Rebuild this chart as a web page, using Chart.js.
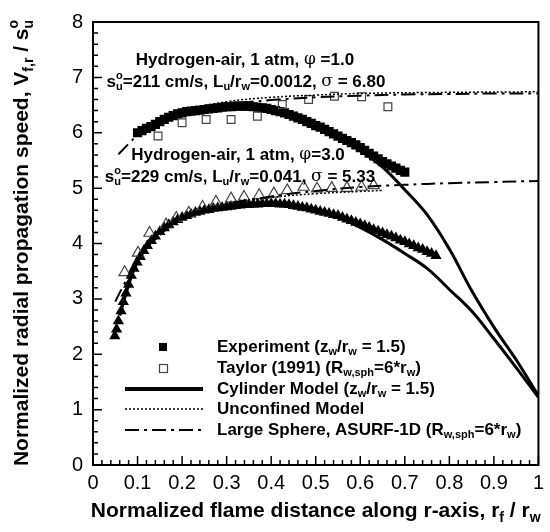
<!DOCTYPE html>
<html>
<head>
<meta charset="utf-8">
<script src="https://cdn.jsdelivr.net/npm/chart.js@4.4.0/dist/chart.umd.min.js"></script>
<style>
  html, body { margin: 0; padding: 0; background: #fff; }
</style>
</head>
<body>
<canvas id="chart" width="550" height="532"></canvas>
<script>
// ---- data ----
// phi = 1.0
const expPhi1X = [0.10, 0.11, 0.12, 0.13, 0.14, 0.15, 0.16, 0.17, 0.18, 0.19, 0.20, 0.21, 0.22, 0.23, 0.24, 0.25,
  0.26, 0.27, 0.28, 0.29, 0.30, 0.31, 0.32, 0.33, 0.34, 0.35, 0.36, 0.37, 0.38, 0.39, 0.40, 0.41, 0.42, 0.43, 0.44,
  0.45, 0.46, 0.47, 0.48, 0.49, 0.50, 0.51, 0.52, 0.53, 0.54, 0.55, 0.56, 0.57, 0.58, 0.59, 0.60, 0.61, 0.62, 0.63,
  0.64, 0.65, 0.66, 0.67, 0.68, 0.69, 0.70];
const expPhi1Y = [6.00, 6.04, 6.08, 6.11, 6.15, 6.20, 6.24, 6.28, 6.31, 6.34, 6.36, 6.38, 6.39, 6.40, 6.41, 6.42,
  6.43, 6.44, 6.45, 6.46, 6.47, 6.47, 6.48, 6.48, 6.48, 6.48, 6.47, 6.46, 6.45, 6.44, 6.42, 6.40, 6.38, 6.36, 6.33,
  6.30, 6.27, 6.24, 6.20, 6.17, 6.13, 6.10, 6.06, 6.02, 5.98, 5.94, 5.90, 5.86, 5.82, 5.78, 5.73, 5.68, 5.63, 5.58,
  5.53, 5.48, 5.44, 5.40, 5.36, 5.32, 5.29];
const taylorPhi1X = [0.146, 0.200, 0.254, 0.310, 0.369, 0.425, 0.484, 0.542, 0.603, 0.662];
const taylorPhi1Y = [5.94, 6.18, 6.24, 6.24, 6.30, 6.51, 6.60, 6.66, 6.65, 6.47];
const cylPhi1X = [0.10, 0.15, 0.20, 0.25, 0.30, 0.35, 0.40, 0.45, 0.50, 0.55, 0.60, 0.65, 0.70, 0.75, 0.80, 0.85, 0.90, 0.95, 1.00];
const cylPhi1Y = [5.98, 6.17, 6.33, 6.42, 6.47, 6.47, 6.42, 6.31, 6.15, 5.95, 5.68, 5.38, 4.97, 4.52, 3.90, 3.15, 2.49, 1.90, 1.25];
const unconfPhi1X = [0.20, 0.30, 0.40, 0.50, 0.60, 0.80, 1.00];
const unconfPhi1Y = [6.40, 6.56, 6.64, 6.68, 6.71, 6.73, 6.74];
const spherePhi1X = [0.057, 0.08, 0.10, 0.15, 0.20, 0.30, 0.40, 0.50, 0.60, 0.70, 0.80, 0.90, 1.00];
const spherePhi1Y = [5.61, 5.80, 5.95, 6.17, 6.32, 6.50, 6.59, 6.64, 6.67, 6.69, 6.70, 6.71, 6.71];

// phi = 3.0
const expPhi3X = [0.049, 0.053, 0.057, 0.063, 0.068, 0.074, 0.080, 0.086, 0.092, 0.099, 0.106, 0.114, 0.122, 0.131,
  0.140, 0.150, 0.160, 0.170, 0.180, 0.19, 0.20, 0.21, 0.22, 0.23, 0.24, 0.25, 0.26, 0.27, 0.28, 0.29, 0.30, 0.31,
  0.32, 0.33, 0.34, 0.35, 0.36, 0.37, 0.38, 0.39, 0.40, 0.41, 0.42, 0.43, 0.44, 0.45, 0.46, 0.47, 0.48, 0.49, 0.50,
  0.51, 0.52, 0.53, 0.54, 0.55, 0.56, 0.57, 0.58, 0.59, 0.60, 0.61, 0.62, 0.63, 0.64, 0.65, 0.66, 0.67, 0.68, 0.69,
  0.70, 0.71, 0.72, 0.73, 0.74, 0.75, 0.76, 0.77];
const expPhi3Y = [2.33, 2.45, 2.60, 2.78, 2.95, 3.10, 3.26, 3.42, 3.55, 3.66, 3.76, 3.87, 3.96, 4.05,
  4.13, 4.21, 4.28, 4.34, 4.39, 4.43, 4.47, 4.50, 4.53, 4.56, 4.58, 4.60, 4.61, 4.63, 4.64, 4.65, 4.66, 4.67,
  4.68, 4.69, 4.70, 4.70, 4.71, 4.71, 4.72, 4.72, 4.72, 4.72, 4.71, 4.71, 4.70, 4.68, 4.67, 4.65, 4.64, 4.62, 4.60,
  4.58, 4.56, 4.54, 4.52, 4.50, 4.47, 4.44, 4.41, 4.38, 4.35, 4.32, 4.29, 4.25, 4.22, 4.19, 4.16, 4.13, 4.10, 4.06,
  4.03, 3.99, 3.96, 3.92, 3.89, 3.85, 3.82, 3.78];
const taylorPhi3X = [0.071, 0.101, 0.127, 0.164, 0.187, 0.215, 0.246, 0.276, 0.310, 0.339, 0.373, 0.406, 0.436,
  0.473, 0.503, 0.536, 0.570, 0.603, 0.630];
const taylorPhi3Y = [3.48, 3.83, 4.19, 4.34, 4.46, 4.55, 4.66, 4.75, 4.81, 4.84, 4.87, 4.90, 4.96,
  5.02, 4.99, 5.00, 5.00, 5.02, 5.05];
const cylPhi3X = [0.06, 0.08, 0.10, 0.13, 0.16, 0.20, 0.25, 0.30, 0.35, 0.40, 0.45, 0.50, 0.55, 0.60, 0.65, 0.70,
  0.75, 0.80, 0.85, 0.90, 0.95, 1.00];
const cylPhi3Y = [2.70, 3.25, 3.68, 4.05, 4.28, 4.46, 4.59, 4.66, 4.71, 4.73, 4.71, 4.62, 4.48, 4.29, 4.07, 3.82,
  3.55, 3.17, 2.78, 2.28, 1.76, 1.22];
const unconfPhi3X = [0.20, 0.30, 0.40, 0.50, 0.60, 0.65];
const unconfPhi3Y = [4.50, 4.72, 4.83, 4.90, 4.94, 4.96];
const spherePhi3X = [0.050, 0.067, 0.10, 0.15, 0.20, 0.30, 0.40, 0.50, 0.60, 0.70, 0.80, 0.90, 1.00];
const spherePhi3Y = [2.95, 3.22, 3.70, 4.15, 4.43, 4.70, 4.85, 4.95, 5.02, 5.06, 5.09, 5.11, 5.13];

// axes
const xMin = 0, xMax = 1, xStep = 0.1, xMinorCount = 5;
const yMin = 0, yMax = 8, yStep = 1, yMinorCount = 5;

const pts = (xs, ys) => xs.map((x, i) => ({ x: x, y: ys[i] }));

const FONT = '"Liberation Sans", Arial, Helvetica, sans-serif';

// rich text: [text, mode, extra]; mode '' | 'sub' | 'sup' | 'sym' | 'supsub'
function drawRich(ctx, parts, x, y, size, align) {
  const big = 'bold ' + size + 'px ' + FONT;
  const small = 'bold ' + Math.round(size * 0.65) + 'px ' + FONT;
  const sym = size + 'px "DejaVu Serif", serif';
  const widths = parts.map(p => {
    const mode = p[1] || '';
    if (mode === 'sub' || mode === 'sup') { ctx.font = small; return ctx.measureText(p[0]).width; }
    if (mode === 'supsub') { ctx.font = small; return Math.max(ctx.measureText(p[0]).width, ctx.measureText(p[2]).width); }
    ctx.font = mode === 'sym' ? sym : big;
    return ctx.measureText(p[0]).width;
  });
  const total = widths.reduce((a, b) => a + b, 0);
  let cx = align === 'center' ? x - total / 2 : x;
  ctx.textBaseline = 'middle';
  ctx.textAlign = 'left';
  parts.forEach((p, i) => {
    const mode = p[1] || '';
    if (mode === 'sub') { ctx.font = small; ctx.fillText(p[0], cx, y + size * 0.32); }
    else if (mode === 'sup') { ctx.font = small; ctx.fillText(p[0], cx, y - size * 0.38); }
    else if (mode === 'supsub') {
      ctx.font = small;
      ctx.fillText(p[0], cx, y - size * 0.38);
      ctx.fillText(p[2], cx, y + size * 0.32);
    } else { ctx.font = mode === 'sym' ? sym : big; ctx.fillText(p[0], cx, y); }
    cx += widths[i];
  });
}

const frame = {
  id: 'frame',
  afterDatasetsDraw(chart) {
    const { ctx, chartArea: a, scales } = chart;
    ctx.save();
    ctx.strokeStyle = '#000';
    ctx.lineWidth = 1.5;
    ctx.beginPath();
    // inward ticks on bottom and left
    const nx = Math.round((xMax - xMin) / xStep) * xMinorCount;
    for (let i = 0; i <= nx; i++) {
      const px = scales.x.getPixelForValue(xMin + (xMax - xMin) * i / nx);
      const len = i % xMinorCount === 0 ? 9 : 5;
      ctx.moveTo(px, a.bottom);
      ctx.lineTo(px, a.bottom - len);
    }
    const ny = Math.round((yMax - yMin) / yStep) * yMinorCount;
    for (let i = 0; i <= ny; i++) {
      const py = scales.y.getPixelForValue(yMin + (yMax - yMin) * i / ny);
      const len = i % yMinorCount === 0 ? 9 : 5;
      ctx.moveTo(a.left, py);
      ctx.lineTo(a.left + len, py);
    }
    ctx.stroke();
    ctx.lineWidth = 2;
    ctx.strokeRect(a.left, a.top, a.right - a.left, a.bottom - a.top);
    ctx.restore();
  },
  afterDraw(chart) {
    const { ctx, chartArea: a } = chart;
    ctx.save();
    ctx.fillStyle = '#000';
    // axis titles
    drawRich(ctx, [['Normalized flame distance along r-axis, r'], ['f', 'sub'], [' / r'], ['w', 'sub']],
      (a.left + a.right) / 2, 511, 21, 'center');
    ctx.save();
    ctx.translate(22, 243);
    ctx.rotate(-Math.PI / 2);
    drawRich(ctx, [['Normalized radial propagation speed, V'], ['f,r', 'sub'], [' / s'], ['o', 'supsub', 'u']],
      0, 0, 21, 'center');
    ctx.restore();

    // annotations
    drawRich(ctx, [['Hydrogen-air, 1 atm, '], ['\u03c6', 'sym'], [' =1.0']], 245, 60, 17, 'center');
    drawRich(ctx, [['s'], ['o', 'supsub', 'u'], ['=211 cm/s, L'], ['u', 'sub'], ['/r'], ['w', 'sub'], ['=0.0012, '],
      ['\u03c3', 'sym'], [' = 6.80']], 246, 82, 17, 'center');
    drawRich(ctx, [['Hydrogen-air, 1 atm, '], ['\u03c6', 'sym'], ['=3.0']], 238, 155, 17, 'center');
    drawRich(ctx, [['s'], ['o', 'supsub', 'u'], ['=229 cm/s, L'], ['u', 'sub'], ['/r'], ['w', 'sub'], ['=0.041, '],
      ['\u03c3', 'sym'], [' = 5.33']], 240, 177, 17, 'center');

    // legend
    const lx = 217, ly = [347, 368, 389, 409, 430];
    ctx.fillRect(159, ly[0] - 4, 8, 8);
    ctx.strokeStyle = '#444';
    ctx.lineWidth = 1.2;
    ctx.strokeRect(159.5, ly[1] - 3.5, 8, 8);
    ctx.strokeStyle = '#000';
    ctx.beginPath(); ctx.lineWidth = 4; ctx.moveTo(125, ly[2]); ctx.lineTo(203, ly[2]); ctx.stroke();
    ctx.beginPath(); ctx.lineWidth = 1.5; ctx.setLineDash([2, 2]); ctx.moveTo(125, ly[3]); ctx.lineTo(203, ly[3]); ctx.stroke();
    ctx.beginPath(); ctx.lineWidth = 2; ctx.setLineDash([14, 5, 3, 5]); ctx.moveTo(125, ly[4]); ctx.lineTo(203, ly[4]); ctx.stroke();
    ctx.setLineDash([]);
    drawRich(ctx, [['Experiment (z'], ['w', 'sub'], ['/r'], ['w', 'sub'], [' = 1.5)']], lx, ly[0], 17, 'left');
    drawRich(ctx, [['Taylor (1991) (R'], ['w,sph', 'sub'], ['=6*r'], ['w', 'sub'], [')']], lx, ly[1], 17, 'left');
    drawRich(ctx, [['Cylinder Model (z'], ['w', 'sub'], ['/r'], ['w', 'sub'], [' = 1.5)']], lx, ly[2], 17, 'left');
    drawRich(ctx, [['Unconfined Model']], lx, ly[3], 17, 'left');
    drawRich(ctx, [['Large Sphere, ASURF-1D (R'], ['w,sph', 'sub'], ['=6*r'], ['w', 'sub'], [')']], lx, ly[4], 17, 'left');
    ctx.restore();
  }
};

const lineSet = (xs, ys, width, dash) => ({
  data: pts(xs, ys), showLine: true, pointRadius: 0, borderColor: '#000',
  borderWidth: width, borderDash: dash, tension: 0.4, fill: false
});

new Chart(document.getElementById('chart'), {
  type: 'scatter',
  data: {
    datasets: [
      lineSet(spherePhi1X, spherePhi1Y, 2, [14, 5, 3, 5]),
      lineSet(spherePhi3X, spherePhi3Y, 2, [14, 5, 3, 5]),
      lineSet(unconfPhi1X, unconfPhi1Y, 1.5, [2, 2]),
      lineSet(unconfPhi3X, unconfPhi3Y, 1.5, [2, 2]),
      lineSet(cylPhi1X, cylPhi1Y, 3, []),
      lineSet(cylPhi3X, cylPhi3Y, 3, []),
      { data: pts(taylorPhi1X, taylorPhi1Y), pointStyle: 'rect', pointRadius: 5.5, borderWidth: 1.2,
        borderColor: '#444', backgroundColor: 'rgba(0,0,0,0)' },
      { data: pts(taylorPhi3X, taylorPhi3Y), pointStyle: 'triangle', pointRadius: 6.5, borderWidth: 1.2,
        borderColor: '#444', backgroundColor: 'rgba(0,0,0,0)' },
      { data: pts(expPhi1X, expPhi1Y), pointStyle: 'rect', pointRadius: 6.5, borderWidth: 0,
        borderColor: '#000', backgroundColor: '#000' },
      { data: pts(expPhi3X, expPhi3Y), pointStyle: 'triangle', pointRadius: 6.5, borderWidth: 0,
        borderColor: '#000', backgroundColor: '#000' }
    ]
  },
  options: {
    responsive: false,
    animation: false,
    devicePixelRatio: 1,
    layout: { padding: { top: 16, right: 9, left: 0, bottom: 0 } },
    plugins: { legend: { display: false }, tooltip: { enabled: false } },
    scales: {
      x: {
        type: 'linear', min: xMin, max: xMax,
        grid: { display: false, drawTicks: false },
        border: { display: false },
        ticks: { stepSize: xStep, color: '#000', padding: 6, maxRotation: 0,
          font: { family: FONT, size: 20 }, callback: v => String(+v.toFixed(1)) },
        afterFit: s => { s.height = 67; }
      },
      y: {
        type: 'linear', min: yMin, max: yMax,
        grid: { display: false, drawTicks: false },
        border: { display: false },
        ticks: { stepSize: yStep, color: '#000', padding: 10,
          font: { family: FONT, size: 20 }, callback: v => String(v) },
        afterFit: s => { s.width = 93; }
      }
    }
  },
  plugins: [frame]
});
</script>
</body>
</html>
